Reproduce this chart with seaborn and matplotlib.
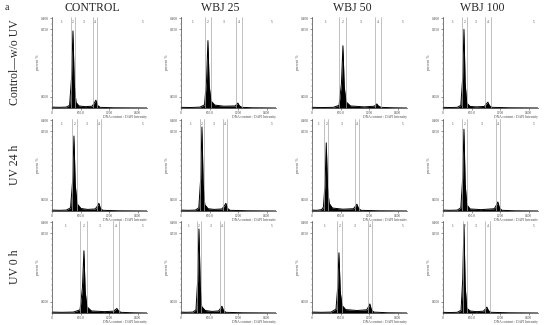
import seaborn as sns
import matplotlib.pyplot as plt

# column / row headers
treatments = ['CONTROL', 'WBJ 25', 'WBJ 50', 'WBJ 100']
conditions = ['Control\u2014w/o UV', 'UV 24 h', 'UV 0 h']

# DNA content (DAPI intensity) profile points and percent of cells, per panel
# row 0: control without UV
dna_r0c0 = [0, 150, 300, 370, 410, 441, 468, 505, 570, 700, 845, 890, 924, 958, 1010, 1300, 2000]
pct_r0c0 = [0.004, 0.003, 0.004, 0.012, 0.130, 0.343, 0.110, 0.025, 0.009, 0.006, 0.008, 0.022, 0.035, 0.012, 0.003, 0.001, 0.0]
dna_r0c1 = [0, 200, 400, 495, 537, 567, 593, 630, 710, 900, 1140, 1172, 1197, 1228, 1280, 1500, 2000]
pct_r0c1 = [0.003, 0.002, 0.004, 0.014, 0.120, 0.300, 0.100, 0.032, 0.013, 0.008, 0.009, 0.016, 0.022, 0.010, 0.003, 0.001, 0.0]
dna_r0c2 = [0, 200, 450, 570, 620, 651, 678, 715, 810, 1100, 1310, 1342, 1365, 1393, 1450, 1700, 2000]
pct_r0c2 = [0.003, 0.002, 0.003, 0.012, 0.110, 0.277, 0.095, 0.028, 0.009, 0.005, 0.008, 0.014, 0.018, 0.010, 0.003, 0.001, 0.0]
dna_r0c3 = [0, 150, 300, 375, 413, 441, 466, 500, 570, 700, 870, 912, 945, 978, 1030, 1400, 2000]
pct_r0c3 = [0.003, 0.002, 0.003, 0.012, 0.130, 0.350, 0.110, 0.022, 0.007, 0.005, 0.007, 0.018, 0.026, 0.010, 0.003, 0.001, 0.0]
# row 1: UV 24 h
dna_r1c0 = [0, 150, 300, 390, 433, 462, 488, 525, 610, 750, 910, 956, 987, 1018, 1070, 1400, 2000]
pct_r1c0 = [0.004, 0.003, 0.004, 0.014, 0.130, 0.330, 0.120, 0.033, 0.011, 0.007, 0.009, 0.022, 0.034, 0.012, 0.003, 0.001, 0.0]
dna_r1c1 = [0, 150, 300, 375, 413, 441, 466, 500, 570, 700, 860, 912, 945, 978, 1030, 1400, 2000]
pct_r1c1 = [0.004, 0.003, 0.004, 0.014, 0.140, 0.370, 0.120, 0.028, 0.010, 0.007, 0.009, 0.022, 0.034, 0.012, 0.003, 0.001, 0.0]
dna_r1c2 = [0, 100, 200, 240, 275, 300, 326, 360, 430, 650, 870, 912, 945, 978, 1030, 1400, 2000]
pct_r1c2 = [0.004, 0.003, 0.006, 0.017, 0.120, 0.300, 0.110, 0.034, 0.013, 0.008, 0.010, 0.020, 0.030, 0.012, 0.003, 0.001, 0.0]
dna_r1c3 = [0, 150, 300, 375, 413, 441, 466, 500, 570, 800, 1080, 1122, 1155, 1188, 1240, 1500, 2000]
pct_r1c3 = [0.004, 0.003, 0.004, 0.014, 0.140, 0.360, 0.120, 0.028, 0.009, 0.006, 0.010, 0.025, 0.040, 0.014, 0.003, 0.001, 0.0]
# row 2: UV 0 h
dna_r2c0 = [0, 200, 450, 590, 640, 672, 698, 735, 830, 1100, 1290, 1332, 1365, 1398, 1450, 1700, 2000]
pct_r2c0 = [0.004, 0.003, 0.004, 0.014, 0.110, 0.274, 0.095, 0.028, 0.009, 0.006, 0.008, 0.014, 0.020, 0.010, 0.003, 0.001, 0.0]
dna_r2c1 = [0, 100, 250, 315, 350, 378, 404, 435, 510, 650, 790, 832, 861, 893, 945, 1300, 2000]
pct_r2c1 = [0.004, 0.003, 0.004, 0.014, 0.140, 0.370, 0.120, 0.028, 0.011, 0.007, 0.009, 0.020, 0.030, 0.012, 0.003, 0.001, 0.0]
dna_r2c2 = [0, 200, 400, 505, 540, 567, 594, 630, 710, 950, 1150, 1192, 1218, 1248, 1300, 1600, 2000]
pct_r2c2 = [0.004, 0.003, 0.004, 0.017, 0.110, 0.265, 0.095, 0.034, 0.015, 0.011, 0.014, 0.028, 0.040, 0.016, 0.004, 0.001, 0.0]
dna_r2c3 = [0, 150, 300, 380, 415, 441, 466, 500, 570, 700, 850, 895, 924, 958, 1010, 1400, 2000]
pct_r2c3 = [0.003, 0.002, 0.003, 0.012, 0.150, 0.390, 0.120, 0.022, 0.009, 0.006, 0.008, 0.018, 0.026, 0.010, 0.003, 0.001, 0.0]

# gate boundaries (regions 1..5)
gates_r0 = [[400, 483, 861, 945], [504, 630, 1155, 1281], [567, 714, 1323, 1449], [399, 504, 882, 1008]]
gates_r1 = [[420, 525, 945, 1029], [399, 483, 882, 966], [260, 345, 910, 985], [399, 504, 1110, 1200]]
gates_r2 = [[588, 735, 1281, 1407], [336, 420, 820, 903], [525, 630, 1176, 1260], [420, 504, 882, 987]]

x_ticks = [0, 600, 1200, 1800]
x_tick_labels = ['0', '600.0', '1200', '1800']
y_ticks = [0.05, 0.35, 0.40]
y_tick_labels = ['0.050', '0.350', '0.400']

profiles = [
    [(dna_r0c0, pct_r0c0), (dna_r0c1, pct_r0c1), (dna_r0c2, pct_r0c2), (dna_r0c3, pct_r0c3)],
    [(dna_r1c0, pct_r1c0), (dna_r1c1, pct_r1c1), (dna_r1c2, pct_r1c2), (dna_r1c3, pct_r1c3)],
    [(dna_r2c0, pct_r2c0), (dna_r2c1, pct_r2c1), (dna_r2c2, pct_r2c2), (dna_r2c3, pct_r2c3)],
]
gates = [gates_r0, gates_r1, gates_r2]

sns.set_style('ticks')
plt.rcParams['font.family'] = ['Liberation Serif', 'DejaVu Serif']

fig = plt.figure(figsize=(5.5, 3.25), dpi=100)
W, H = 550, 325
lefts = [52, 181, 312, 443]
tops = [17, 119, 221]
bottoms = [108, 211, 313]
tiny = 2.6

for r in range(3):
    for c in range(4):
        ax = fig.add_axes([lefts[c] / W, 1 - bottoms[r] / H, 95 / W, (bottoms[r] - tops[r]) / H])
        dna, pct = profiles[r][c]
        sns.lineplot(x=dna, y=pct, ax=ax, color='black', lw=0.7)
        ax.fill_between(dna, pct, color='black', lw=0)
        g = gates[r][c]
        for gx in g:
            ax.axvline(gx, color='#a8a8a8', lw=0.5)
        mids = [g[0] / 2, (g[0] + g[1]) / 2, (g[1] + g[2]) / 2, (g[2] + g[3]) / 2, 1900]
        for k, mx in enumerate(mids):
            ax.text(mx, 0.383, str(k + 1), fontsize=tiny, ha='center', va='center', color='#444')
        ax.set_xlim(0, 2000)
        ax.set_ylim(0, 0.405)
        ax.set_xticks(x_ticks, x_tick_labels)
        ax.set_yticks(y_ticks, y_tick_labels)
        ax.set_yticks([i * 0.025 for i in range(17)], minor=True)
        ax.tick_params(labelsize=tiny, length=1.2, width=0.4, pad=0.8, colors='#444')
        ax.tick_params(which='minor', length=0.8, width=0.3, colors='#666')
        ax.set_xlabel('DNA content : DAPI Intensity', fontsize=tiny, labelpad=0.5, loc='right', color='#444')
        ax.set_ylabel('percent  %', fontsize=tiny, labelpad=1, color='#444')
        for s in ['top', 'right']:
            ax.spines[s].set_visible(False)
        for s in ['left', 'bottom']:
            ax.spines[s].set_linewidth(0.5)
            ax.spines[s].set_color('#444')

centers = [92, 220, 352, 482]
for c, name in enumerate(treatments):
    fig.text(centers[c] / W, 1 - 8 / H, name, fontsize=8.5, ha='center', va='center')
row_mid = [62, 165, 267]
for r, name in enumerate(conditions):
    fig.text(15 / W, 1 - row_mid[r] / H, name, fontsize=8.5, ha='center', va='center', rotation=90)
fig.text(5 / W, 1 - 7 / H, 'a', fontsize=7, ha='left', va='center')

fig.savefig('out.png', dpi=100)
